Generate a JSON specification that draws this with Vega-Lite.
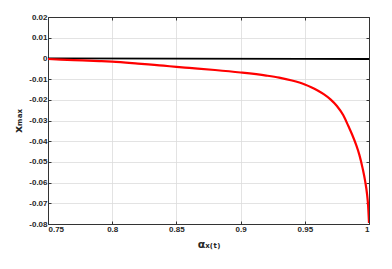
{
  "$schema": "https://vega.github.io/schema/vega-lite/v6.json",
  "width": 321,
  "height": 207,
  "autosize": "none",
  "padding": {"left": 48, "top": 17, "right": 23, "bottom": 45},
  "background": "white",
  "config": {
    "view": {"stroke": "#333333", "strokeWidth": 1},
    "axis": {
      "labelFont": "Liberation Sans",
      "labelFontSize": 8,
      "labelFontWeight": "bold",
      "labelColor": "#262626",
      "titleFont": "DejaVu Sans",
      "titleFontSize": 11,
      "titleFontWeight": "bold",
      "titleColor": "#262626",
      "domainColor": "#333333",
      "tickColor": "#333333",
      "gridColor": "#dcdcdc",
      "gridWidth": 0.8,
      "tickSize": -3,
      "labelPadding": 4,
      "labelExpr": "'' + datum.value"
    }
  },
  "datasets": {
    "black": [
      {"a": 0.75, "v": 0.0},
      {"a": 0.85, "v": -0.0001},
      {"a": 0.95, "v": -0.0002},
      {"a": 1.0, "v": -0.0003}
    ],
    "red": [
      {"a": 0.75, "v": -0.0003},
      {"a": 0.77, "v": -0.0008},
      {"a": 0.79, "v": -0.0013},
      {"a": 0.80, "v": -0.0016},
      {"a": 0.82, "v": -0.0025},
      {"a": 0.84, "v": -0.0035},
      {"a": 0.85, "v": -0.0041},
      {"a": 0.86, "v": -0.0046},
      {"a": 0.88, "v": -0.0056},
      {"a": 0.90, "v": -0.0068},
      {"a": 0.92, "v": -0.0083},
      {"a": 0.93, "v": -0.0093},
      {"a": 0.94, "v": -0.0107},
      {"a": 0.95, "v": -0.0126},
      {"a": 0.955, "v": -0.0139},
      {"a": 0.96, "v": -0.0155},
      {"a": 0.965, "v": -0.0174},
      {"a": 0.97, "v": -0.0198},
      {"a": 0.975, "v": -0.0230},
      {"a": 0.98, "v": -0.0275},
      {"a": 0.984, "v": -0.0328},
      {"a": 0.987, "v": -0.0370},
      {"a": 0.99, "v": -0.0418},
      {"a": 0.9925, "v": -0.0466},
      {"a": 0.995, "v": -0.0530},
      {"a": 0.997, "v": -0.0593},
      {"a": 0.9985, "v": -0.0657},
      {"a": 0.9993, "v": -0.0710},
      {"a": 1.0, "v": -0.0795}
    ]
  },
  "layer": [
    {
      "data": {"name": "black"},
      "mark": {"type": "line", "color": "#000000", "strokeWidth": 1.8, "clip": true},
      "encoding": {
        "x": {
          "field": "a", "type": "quantitative",
          "scale": {"domain": [0.75, 1], "nice": false, "zero": false},
          "axis": {"values": [0.75, 0.8, 0.85, 0.9, 0.95, 1], "title": "αₓ₍ₜ₎", "titlePadding": 5}
        },
        "y": {
          "field": "v", "type": "quantitative",
          "scale": {"domain": [-0.08, 0.02], "nice": false, "zero": false},
          "axis": {"values": [0.02, 0.01, 0, -0.01, -0.02, -0.03, -0.04, -0.05, -0.06, -0.07, -0.08], "title": "xₘₐₓ", "titlePadding": 5}
        }
      }
    },
    {
      "data": {"name": "red"},
      "mark": {"type": "line", "color": "#ff0000", "strokeWidth": 2.2, "clip": true, "interpolate": "monotone"},
      "encoding": {
        "x": {
          "field": "a", "type": "quantitative",
          "scale": {"domain": [0.75, 1], "nice": false, "zero": false},
          "axis": {"orient": "top", "values": [0.75, 0.8, 0.85, 0.9, 0.95, 1], "labels": false, "grid": false, "title": null}
        },
        "y": {
          "field": "v", "type": "quantitative",
          "scale": {"domain": [-0.08, 0.02], "nice": false, "zero": false},
          "axis": {"orient": "right", "values": [0.02, 0.01, 0, -0.01, -0.02, -0.03, -0.04, -0.05, -0.06, -0.07, -0.08], "labels": false, "grid": false, "title": null}
        }
      }
    }
  ],
  "resolve": {"scale": {"x": "independent", "y": "independent"}}
}
